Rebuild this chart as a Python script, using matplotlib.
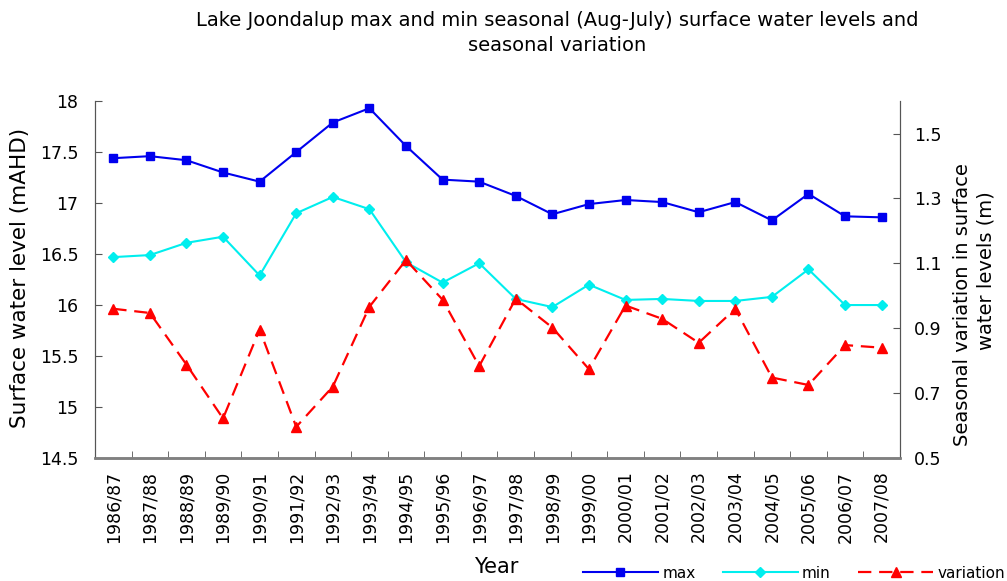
import matplotlib.pyplot as plt
import numpy as np

plt.rcParams['font.family'] = ['DejaVu Sans']

seasons = ['1986/87', '1987/88', '1988/89', '1989/90', '1990/91', '1991/92',
           '1992/93', '1993/94', '1994/95', '1995/96', '1996/97', '1997/98',
           '1998/99', '1999/00', '2000/01', '2001/02', '2002/03', '2003/04',
           '2004/05', '2005/06', '2006/07', '2007/08']

max_level = [17.44, 17.46, 17.42, 17.30, 17.21, 17.50, 17.79, 17.93, 17.56,
             17.23, 17.21, 17.07, 16.89, 16.99, 17.03, 17.01, 16.91, 17.01,
             16.83, 17.09, 16.87, 16.86]

min_level = [16.47, 16.49, 16.61, 16.67, 16.29, 16.90, 17.06, 16.94, 16.42,
             16.22, 16.41, 16.06, 15.98, 16.20, 16.05, 16.06, 16.04, 16.04,
             16.08, 16.35, 16.00, 16.00]

variation = [0.96, 0.947, 0.788, 0.622, 0.896, 0.596, 0.72, 0.966, 1.11,
             0.988, 0.783, 0.991, 0.902, 0.774, 0.97, 0.929, 0.855, 0.96,
             0.748, 0.725, 0.848, 0.84]

x = np.arange(len(seasons))
spine_col = '#555555'
W, H = 1007, 581

fig = plt.figure(figsize=(10.07, 5.81), dpi=100)
ax = fig.add_axes([0.0943, 0.2117, 0.7994, 0.6143])
ax2 = ax.twinx()

l1, = ax.plot(x, max_level, color='#0000ee', marker='s', markersize=6,
              linewidth=1.5, label='max')
l2, = ax.plot(x, min_level, color='#00eeee', marker='D', markersize=5.5,
              linewidth=1.5, label='min')
l3, = ax2.plot(x, variation, color='#ff0000', marker='^', markersize=7,
               linewidth=1.6, dashes=(6, 3.5), label='variation')

ax.set_xlim(-0.5, len(seasons) - 0.5)
ax.set_ylim(14.5, 18)
ax.set_yticks([14.5, 15, 15.5, 16, 16.5, 17, 17.5, 18])
ax.set_yticklabels(['14.5', '15', '15.5', '16', '16.5', '17', '17.5', '18'])
ax2.set_ylim(0.5, 1.6)
ax2.set_yticks([0.5, 0.7, 0.9, 1.1, 1.3, 1.5])

ax.set_xticks(x)
ax.set_xticklabels(seasons, rotation=90, fontsize=12.5)
ax.set_xticks(np.arange(-0.5, len(seasons)), minor=True)
ax.tick_params(axis='x', which='major', length=0, pad=9)
ax.tick_params(axis='x', which='minor', direction='in', length=5, color=spine_col)
ax.tick_params(axis='y', direction='in', length=5, labelsize=12.5, pad=12,
               color=spine_col)
ax2.tick_params(axis='y', direction='in', length=5, labelsize=12.5, pad=10,
                color=spine_col)

for a in (ax, ax2):
    a.spines['top'].set_visible(False)
    for s in ('left', 'right'):
        a.spines[s].set_color(spine_col)
    a.spines['bottom'].set_color('#808080')
    a.spines['bottom'].set_linewidth(1.8)

ax.set_ylabel('Surface water level (mAHD)', fontsize=15.5)
ax.yaxis.set_label_coords((20.5 - 95) / 805, 0.505)
ax.yaxis.label.set_verticalalignment('center')

# right axis title, two lines placed as in the original
fig.text(962 / W, 1 - 305 / H, 'Seasonal variation in surface', fontsize=14,
         rotation=90, ha='center', va='center')
fig.text(986 / W, 1 - 271 / H, 'water levels (m)', fontsize=14,
         rotation=90, ha='center', va='center')

fig.text(496 / W, 1 - 567 / H, 'Year', fontsize=15, ha='center', va='center')

fig.text(0.553, 0.944, 'Lake Joondalup max and min seasonal (Aug-July) surface water levels and\nseasonal variation',
         fontsize=14, ha='center', va='center', linespacing=1.4)

fig.legend(handles=[l1, l2, l3], loc='center left',
           bbox_to_anchor=(583 / W, 1 - 573 / H), borderpad=0, borderaxespad=0,
           ncol=3, frameon=False, fontsize=11, handlelength=4.9,
           handletextpad=0.28, columnspacing=1.8)

fig.savefig('out.png', dpi=100)
